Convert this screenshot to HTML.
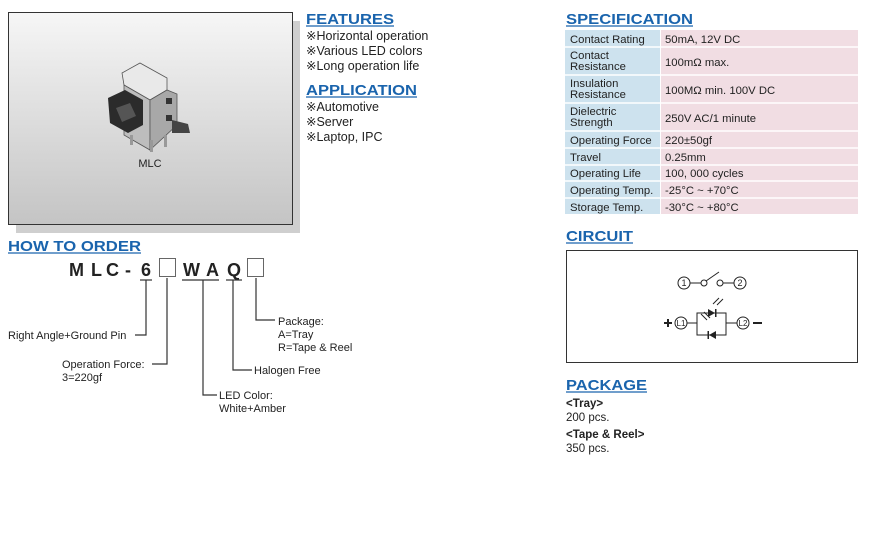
<!DOCTYPE html>
<html><head><meta charset="utf-8"><style>
html,body{margin:0;padding:0;background:#fff;width:873px;height:552px;overflow:hidden}
svg{display:block;font-family:"Liberation Sans",Arial,sans-serif}
</style></head><body>
<svg width="873" height="552" viewBox="0 0 873 552" xmlns="http://www.w3.org/2000/svg">
<defs>
<linearGradient id="bg" x1="0" y1="0" x2="0" y2="1">
<stop offset="0" stop-color="#f6f6f6"/><stop offset="1" stop-color="#c4c4c4"/>
</linearGradient>
</defs>
<rect x="16" y="21" width="284" height="212" fill="#cfcfcf"/>
<rect x="8.5" y="12.5" width="284" height="212" fill="url(#bg)" stroke="#333" stroke-width="1"/>
<g>
<polygon points="122,73 140,63 167,78 167,90 150,100 124,85" fill="#e9e9e9" stroke="#555" stroke-width="0.8"/>
<polygon points="124,85 150,100 150,150 124,135" fill="#bdbdbd" stroke="#555" stroke-width="0.8"/>
<polygon points="150,100 167,90 177,94 177,125 150,150" fill="#a8a8a8" stroke="#555" stroke-width="0.8"/>
<polygon points="108,98 125,90 143,100 143,125 128,133 110,123" fill="#2b2b2b"/>
<polygon points="116,108 130,103 136,116 122,122" fill="#555"/>
<rect x="166" y="98" width="6" height="6" fill="#333"/>
<rect x="166" y="115" width="6" height="6" fill="#333"/>
<polygon points="172,120 188,124 190,133 172,133" fill="#444"/>
<rect x="130" y="135" width="3" height="10" fill="#999"/>
<rect x="150" y="140" width="3" height="12" fill="#999"/>
<rect x="164" y="135" width="3" height="12" fill="#999"/>
</g>
<text x="150" y="167" font-size="11" fill="#222" text-anchor="middle">MLC</text>

<g font-size="12.5" fill="#222">
<text x="306" y="24" font-size="15" font-weight="bold" fill="#1a64ad" textLength="88" lengthAdjust="spacingAndGlyphs">FEATURES</text>
<line x1="306" y1="26" x2="394" y2="26" stroke="#1a64ad" stroke-width="1.3"/>
<text x="306" y="40">※Horizontal operation</text>
<text x="306" y="55">※Various LED colors</text>
<text x="306" y="70">※Long operation life</text>
<text x="306" y="95" font-size="15" font-weight="bold" fill="#1a64ad" textLength="111" lengthAdjust="spacingAndGlyphs">APPLICATION</text>
<line x1="306" y1="97" x2="417" y2="97" stroke="#1a64ad" stroke-width="1.3"/>
<text x="306" y="111">※Automotive</text>
<text x="306" y="126">※Server</text>
<text x="306" y="141">※Laptop, IPC</text>
</g>

<text x="8" y="251" font-size="15" font-weight="bold" fill="#1a64ad" textLength="133" lengthAdjust="spacingAndGlyphs">HOW TO ORDER</text>
<line x1="8" y1="253" x2="141" y2="253" stroke="#1a64ad" stroke-width="1.3"/>
<g font-size="18" font-weight="bold" fill="#222">
<text x="69" y="276">M</text><text x="91" y="276">L</text><text x="106" y="276">C</text><text x="125" y="276">-</text>
<text x="141" y="276">6</text><text x="183" y="276">W</text><text x="206" y="276">A</text><text x="227" y="276">Q</text>
</g>
<g fill="none" stroke="#666" stroke-width="1">
<rect x="159.5" y="258.5" width="16" height="18"/>
<rect x="247.5" y="258.5" width="16" height="18"/>
</g>
<g stroke="#333" stroke-width="1.2" fill="none">
<line x1="140" y1="280" x2="152" y2="280"/>
<line x1="182" y1="280" x2="219" y2="280"/>
<line x1="226" y1="280" x2="242" y2="280"/>
<polyline points="146,280 146,335 135,335"/>
<polyline points="167,278 167,364 152,364"/>
<polyline points="203,280 203,395 217,395"/>
<polyline points="233,280 233,370 252,370"/>
<polyline points="256,278 256,320 275,320"/>
</g>
<g font-size="11" fill="#222">
<text x="8" y="339">Right Angle+Ground Pin</text>
<text x="62" y="368">Operation Force:</text>
<text x="62" y="381">3=220gf</text>
<text x="219" y="399">LED Color:</text>
<text x="219" y="412">White+Amber</text>
<text x="254" y="374">Halogen Free</text>
<text x="278" y="325">Package:</text>
<text x="278" y="338">A=Tray</text>
<text x="278" y="351">R=Tape &amp; Reel</text>
</g>

<text x="566" y="24" font-size="15" font-weight="bold" fill="#1a64ad" textLength="127" lengthAdjust="spacingAndGlyphs">SPECIFICATION</text>
<line x1="566" y1="26" x2="693" y2="26" stroke="#1a64ad" stroke-width="1.3"/>
<g>
<rect x="565" y="30" width="95" height="184" fill="#cde2ee"/>
<rect x="661" y="30" width="197" height="184" fill="#f1dde3"/>
<g stroke="#fff" stroke-width="1.5">
<line x1="565" y1="47" x2="858" y2="47"/><line x1="565" y1="75" x2="858" y2="75"/>
<line x1="565" y1="103" x2="858" y2="103"/><line x1="565" y1="131" x2="858" y2="131"/>
<line x1="565" y1="148" x2="858" y2="148"/><line x1="565" y1="165" x2="858" y2="165"/>
<line x1="565" y1="181" x2="858" y2="181"/><line x1="565" y1="198" x2="858" y2="198"/>
</g>
</g>
<g font-size="11.3" fill="#222">
<text x="570" y="43">Contact Rating</text><text x="665" y="43">50mA, 12V DC</text>
<text x="570" y="59">Contact</text><text x="570" y="70">Resistance</text><text x="665" y="66">100mΩ max.</text>
<text x="570" y="87">Insulation</text><text x="570" y="98">Resistance</text><text x="665" y="94">100MΩ min. 100V DC</text>
<text x="570" y="115">Dielectric</text><text x="570" y="126">Strength</text><text x="665" y="122">250V AC/1 minute</text>
<text x="570" y="144">Operating Force</text><text x="665" y="144">220±50gf</text>
<text x="570" y="161">Travel</text><text x="665" y="161">0.25mm</text>
<text x="570" y="177">Operating Life</text><text x="665" y="177">100, 000 cycles</text>
<text x="570" y="194">Operating Temp.</text><text x="665" y="194">-25°C ~ +70°C</text>
<text x="570" y="211">Storage Temp.</text><text x="665" y="211">-30°C ~ +80°C</text>
</g>

<text x="566" y="241" font-size="15" font-weight="bold" fill="#1a64ad" textLength="67" lengthAdjust="spacingAndGlyphs">CIRCUIT</text>
<line x1="566" y1="243" x2="633" y2="243" stroke="#1a64ad" stroke-width="1.3"/>
<rect x="566.5" y="250.5" width="291" height="112" fill="#fff" stroke="#333" stroke-width="1"/>
<g stroke="#222" stroke-width="1" fill="none">
<circle cx="684" cy="283" r="6"/>
<line x1="690" y1="283" x2="701" y2="283"/>
<circle cx="704" cy="283" r="3"/>
<line x1="706" y1="281" x2="719" y2="272"/>
<circle cx="720" cy="283" r="3"/>
<line x1="723" y1="283" x2="734" y2="283"/>
<circle cx="740" cy="283" r="6"/>
<circle cx="681" cy="323" r="6"/>
<line x1="687" y1="323" x2="697" y2="323"/>
<rect x="697" y="313" width="29" height="22"/>
<line x1="726" y1="323" x2="737" y2="323"/>
<circle cx="743" cy="323" r="6"/>
<line x1="713" y1="304" x2="719" y2="298"/><line x1="717" y1="305" x2="723" y2="299"/>
<line x1="710" y1="318" x2="704" y2="312"/><line x1="707" y1="320" x2="701" y2="314"/>
</g>
<g fill="#222">
<polygon points="708,309 708,317 715,313"/><rect x="715" y="309" width="1.5" height="8"/>
<polygon points="716,331 716,339 709,335"/><rect x="707.5" y="331" width="1.5" height="8"/>
<rect x="664" y="322" width="8" height="2"/><rect x="667" y="319" width="2" height="8"/>
<rect x="753" y="322" width="9" height="2"/>
</g>
<g font-size="9" fill="#222" text-anchor="middle">
<text x="684" y="286">1</text><text x="740" y="286">2</text>
<text x="681" y="326" font-size="8">L1</text><text x="743" y="326" font-size="8">L2</text>
</g>

<text x="566" y="390" font-size="15" font-weight="bold" fill="#1a64ad" textLength="81" lengthAdjust="spacingAndGlyphs">PACKAGE</text>
<line x1="566" y1="392" x2="647" y2="392" stroke="#1a64ad" stroke-width="1.3"/>
<g font-size="11.5" fill="#222">
<text x="566" y="407" font-weight="bold">&lt;Tray&gt;</text>
<text x="566" y="421">200 pcs.</text>
<text x="566" y="438" font-weight="bold">&lt;Tape &amp; Reel&gt;</text>
<text x="566" y="452">350 pcs.</text>
</g>
</svg>
</body></html>
